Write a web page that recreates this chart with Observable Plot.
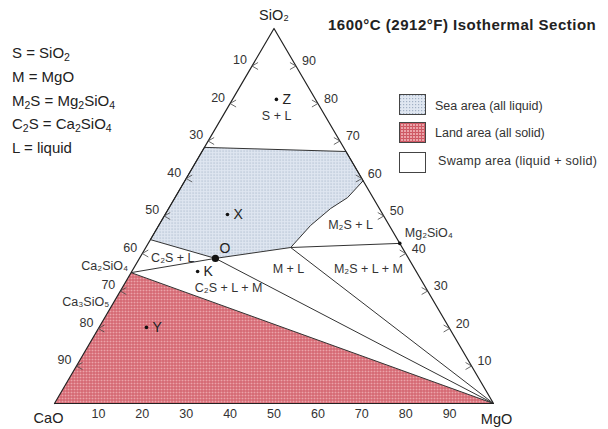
<!DOCTYPE html>
<html><head><meta charset="utf-8">
<script src="https://cdn.jsdelivr.net/npm/d3@7"></script>
<script src="https://cdn.jsdelivr.net/npm/@observablehq/plot@0.6"></script>
<style>
body{margin:0;background:#fff;font-family:"Liberation Sans",Arial,sans-serif;}
#wrap{position:relative;width:608px;height:429px;overflow:hidden;background:#fff}
#wrap svg{position:absolute;left:0;top:0}
.title{position:absolute;left:328px;top:16px;font-weight:bold;font-size:15px;letter-spacing:0.5px;color:#222;white-space:nowrap}
.defs{position:absolute;left:12px;top:41px;font-size:15px;color:#222;line-height:23.8px;white-space:nowrap}
.defs sub{font-size:10.5px;vertical-align:-3px;line-height:0}
.leg{position:absolute;left:399px;width:27px;height:21px;border:1px solid #444;box-sizing:border-box}
.legt{position:absolute;left:435px;font-size:12.5px;color:#333;white-space:nowrap}
</style></head>
<body>
<div id="wrap">
  <div class="title">1600°C (2912°F) Isothermal Section</div>
  <div class="defs">
    S = SiO<sub>2</sub><br>
    M = MgO<br>
    M<sub>2</sub>S = Mg<sub>2</sub>SiO<sub>4</sub><br>
    C<sub>2</sub>S = Ca<sub>2</sub>SiO<sub>4</sub><br>
    L = liquid
  </div>
  <div class="leg" style="top:94px;" id="legSea"></div>
  <div class="leg" style="top:122px;" id="legLand"></div>
  <div class="leg" style="top:152px;background:#fff"></div>
  <div class="legt" style="top:99px">Sea area (all liquid)</div>
  <div class="legt" style="top:126px">Land area (all solid)</div>
  <div class="legt" style="top:154px;left:438px;letter-spacing:0.3px">Swamp area (liquid + solid)</div>
</div>
<script>
// ---- data (compositions as [CaO, MgO, SiO2] wt%) ----
const vertexNames = ["CaO", "MgO", "SiO₂"];
const vertexComps = [[100, 0, 0], [0, 100, 0], [0, 0, 100]];
const tickValues = [10, 20, 30, 40, 50, 60, 70, 80, 90];

const seaArea = [
  [56.3, 0, 43.7], [31.7, 0, 68.3], [0, 32.8, 67.2], [0, 40.6, 59.4],
  [5.8, 39.3, 54.9], [11.1, 36.9, 52.0], [17.9, 34.6, 47.5],
  [25.4, 33.0, 41.6], [44.0, 17.3, 38.7]
];
const landArea = [[65.1, 0, 34.9], [100, 0, 0], [0, 100, 0]];

const compoundNames = ["Ca₂SiO₄", "Ca₃SiO₅", "Mg₂SiO₄"];
const compoundComps = [[65.1, 0, 34.9], [73.7, 0, 26.3], [0, 57.3, 42.7]];

const tieLineStarts = [[65.1, 0, 34.9], [44.0, 17.3, 38.7], [25.4, 33.0, 41.6], [25.4, 33.0, 41.6], [65.1, 0, 34.9]];
const tieLineEnds   = [[44.0, 17.3, 38.7], [0, 100, 0], [0, 100, 0], [0, 57.3, 42.7], [0, 100, 0]];

const pointNames = ["Z", "X", "O", "K", "Y"];
const pointComps = [[8.9, 10.0, 81.1], [35.4, 14.2, 50.4], [44.0, 17.3, 38.7], [49.8, 15.0, 35.2], [68.9, 10.8, 20.3]];

const regionNames = ["S + L", "M₂S + L", "M + L", "M₂S + L + M", "C₂S + L", "C₂S + L + M"];
const regionComps = [[11.0, 12.2, 76.8], [8.8, 43.7, 47.5], [28.7, 35.3, 36.0], [10.5, 53.5, 36.0], [53.6, 7.5, 38.9], [45.0, 24.3, 30.7]];

// ---- helpers ----
const S3 = Math.sqrt(3) / 2;
const tern = ([c, m, s]) => ({x: m + s / 2, y: s * S3});
const W = 608, H = 429, mL = 54, mR = 115, mT = 28, mB = 26;
const ux = 100 / (W - mL - mR), uy = (100 * S3) / (H - mT - mB); // data units per pixel

const outline = [...vertexComps, vertexComps[0]].map(tern);
const sea = seaArea.map(tern);
const land = landArea.map(tern);
const ties = tieLineStarts.map((a, i) => { const p = tern(a), q = tern(tieLineEnds[i]); return {x1: p.x, y1: p.y, x2: q.x, y2: q.y}; });
const verts = vertexNames.map((n, i) => ({name: n, ...tern(vertexComps[i])}));
const comps = compoundNames.map((n, i) => ({name: n, ...tern(compoundComps[i])}));
const pts = pointNames.map((n, i) => ({name: n, ...tern(pointComps[i])}));
const regs = regionNames.map((n, i) => ({name: n, ...tern(regionComps[i])}));
const bottomTicks = tickValues.map(v => ({v, ...tern([100 - v, v, 0])}));
const leftTicks = tickValues.map(v => ({v, ...tern([v, 0, 100 - v])}));
const rightTicks = tickValues.map(v => ({v, ...tern([0, 100 - v, v])}));
const chev = (arr, dir) => arr.flatMap(t => [
  {x1: t.x, y1: t.y, x2: t.x + dir * 6 * ux, y2: t.y + 3.5 * uy},
  {x1: t.x, y1: t.y, x2: t.x + dir * 6 * ux, y2: t.y - 3.5 * uy}
]);

const font = "Liberation Sans, Arial, sans-serif";
const svg = Plot.plot({
  width: W, height: H,
  marginLeft: mL, marginRight: mR, marginTop: mT, marginBottom: mB,
  x: {domain: [0, 100], axis: null},
  y: {domain: [0, 100 * S3], axis: null},
  style: {fontFamily: font, background: "white", overflow: "visible"},
  marks: [
    Plot.line(land, {x: "x", y: "y", fill: "url(#landPat)", stroke: "none"}),
    Plot.line([...sea, sea[0]], {x: "x", y: "y", fill: "url(#seaPat)", stroke: "#333", strokeWidth: 1}),
    Plot.link(ties, {x1: "x1", y1: "y1", x2: "x2", y2: "y2", stroke: "#333", strokeWidth: 1}),
    Plot.line(outline, {x: "x", y: "y", stroke: "#222", strokeWidth: 1.2}),
    Plot.link(chev(leftTicks, 1), {x1: "x1", y1: "y1", x2: "x2", y2: "y2", stroke: "#444", strokeWidth: 0.8}),
    Plot.link(chev(rightTicks, -1), {x1: "x1", y1: "y1", x2: "x2", y2: "y2", stroke: "#444", strokeWidth: 0.8}),
    Plot.text(bottomTicks, {x: "x", y: "y", text: d => String(d.v), dy: 10, fontSize: 12.5, fill: "#333"}),
    Plot.text(leftTicks, {x: "x", y: "y", text: d => String(d.v), dx: -12, dy: -6, fontSize: 12.5, fill: "#333"}),
    Plot.text(rightTicks, {x: "x", y: "y", text: d => String(d.v), dx: 13, dy: -5, fontSize: 12.5, fill: "#333"}),
    Plot.text(verts.filter(d => d.name === "CaO"), {x: "x", y: "y", text: "name", dx: -6, dy: 15, fontSize: 14.5, fill: "#222"}),
    Plot.text(verts.filter(d => d.name === "MgO"), {x: "x", y: "y", text: "name", dx: 3, dy: 16, fontSize: 14.5, fill: "#222"}),
    Plot.text(verts.filter(d => d.name === "SiO₂"), {x: "x", y: "y", text: "name", dy: -13, fontSize: 14.5, fill: "#222"}),
    Plot.text(comps.filter(d => d.name === "Ca₂SiO₄"), {x: "x", y: "y", text: "name", dx: -3, dy: -7, textAnchor: "end", fontSize: 12.5, fill: "#333"}),
    Plot.text(comps.filter(d => d.name === "Ca₃SiO₅"), {x: "x", y: "y", text: "name", dx: -3, dy: -3, textAnchor: "end", fontSize: 12.5, fill: "#333"}),
    Plot.text(comps.filter(d => d.name === "Mg₂SiO₄"), {x: "x", y: "y", text: "name", dx: 5, dy: -10, textAnchor: "start", fontSize: 12.5, fill: "#333"}),
    Plot.dot(comps.filter(d => d.name === "Mg₂SiO₄"), {x: "x", y: "y", r: 1.8, fill: "#111"}),
    Plot.text(regs, {x: "x", y: "y", text: "name", fontSize: 12.5, fill: "#333"}),
    Plot.dot(pts.filter(d => d.name !== "O"), {x: "x", y: "y", r: 1.8, fill: "#111"}),
    Plot.dot(pts.filter(d => d.name === "O"), {x: "x", y: "y", r: 3.6, fill: "#111"}),
    Plot.text(pts.filter(d => d.name !== "O"), {x: "x", y: "y", text: "name", dx: 6, textAnchor: "start", fontSize: 14, fill: "#222"}),
    Plot.text(pts.filter(d => d.name === "O"), {x: "x", y: "y", text: "name", dx: 4, dy: -10, textAnchor: "start", fontSize: 14, fill: "#222"})
  ]
});

const defs = d3.select(svg).insert("defs", ":first-child");
const sp = defs.append("pattern").attr("id", "seaPat").attr("width", 3).attr("height", 3).attr("patternUnits", "userSpaceOnUse");
sp.append("rect").attr("width", 3).attr("height", 3).attr("fill", "#e0e7f1");
sp.append("rect").attr("width", 1.2).attr("height", 1.2).attr("fill", "#a2b0c4");
const lp = defs.append("pattern").attr("id", "landPat").attr("width", 3).attr("height", 3).attr("patternUnits", "userSpaceOnUse");
lp.append("rect").attr("width", 3).attr("height", 3).attr("fill", "#eba3a9");
lp.append("rect").attr("width", 3).attr("height", 1).attr("fill", "#cd5662");
lp.append("rect").attr("width", 1).attr("height", 3).attr("fill", "#d05c67");

const wrap = document.getElementById("wrap");
wrap.insertBefore(svg, wrap.firstChild);

// legend swatches share the same patterns
function swatch(id, pat) {
  const box = document.getElementById(id);
  const s = d3.select(box).append("svg").attr("width", 25).attr("height", 19).style("position", "absolute").style("left", "0").style("top", "0");
  s.append("rect").attr("width", 25).attr("height", 19).attr("fill", `url(#${pat})`);
}
swatch("legSea", "seaPat");
swatch("legLand", "landPat");
</script>
</body></html>
